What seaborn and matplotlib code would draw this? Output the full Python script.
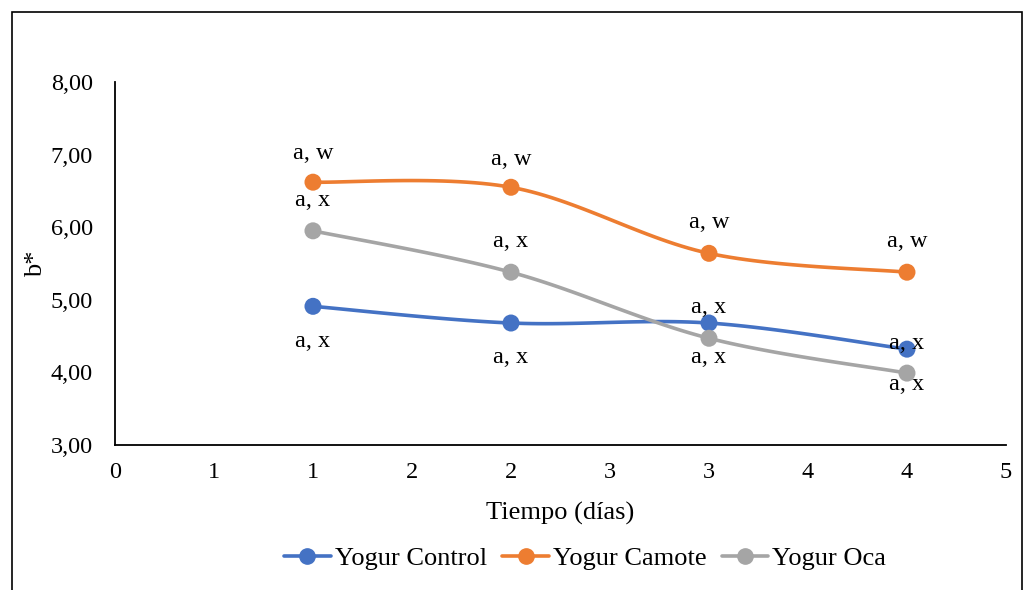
import numpy as np
import pandas as pd
import seaborn as sns
import matplotlib.pyplot as plt
from matplotlib.patches import Rectangle
from matplotlib.ticker import FuncFormatter, MultipleLocator

# datos
dias = [1, 2, 3, 4]
control = [4.91, 4.68, 4.68, 4.32]
camote = [6.62, 6.55, 5.64, 5.38]
oca = [5.95, 5.38, 4.47, 3.99]
series = ['Yogur Control', 'Yogur Camote', 'Yogur Oca']
etiquetas = {
    'Yogur Control': ['a, x', 'a, x', 'a, x', 'a, x'],
    'Yogur Camote': ['a, w', 'a, w', 'a, w', 'a, w'],
    'Yogur Oca': ['a, x', 'a, x', 'a, x', 'a, x'],
}
# desplazamiento vertical de las etiquetas (puntos)
desplaz = {
    'Yogur Control': [-25, -25, 11, 4],
    'Yogur Camote': [21, 20, 22, 22],
    'Yogur Oca': [22, 22, -14, -8],
}
colores = ['#4472C4', '#ED7D31', '#A5A5A5']

df = pd.DataFrame({'dia': dias * 3,
                   'b': control + camote + oca,
                   'serie': np.repeat(series, len(dias))})


def suavizar(x, y, n=30):
    # curva suavizada tipo Excel (Bezier cubica, Catmull-Rom)
    p = np.column_stack([x, y]).astype(float)
    p = np.vstack([p[0], p, p[-1]])
    xs, ys = [], []
    t = np.linspace(0, 1, n)
    for i in range(1, len(p) - 2):
        p0, p1, p2, p3 = p[i - 1], p[i], p[i + 1], p[i + 2]
        c1 = p1 + (p2 - p0) / 6
        c2 = p2 - (p3 - p1) / 6
        b = ((1 - t) ** 3)[:, None] * p1 + (3 * (1 - t) ** 2 * t)[:, None] * c1 \
            + (3 * (1 - t) * t ** 2)[:, None] * c2 + (t ** 3)[:, None] * p2
        xs.extend(b[:, 0])
        ys.extend(b[:, 1])
    return xs, ys


sns.set_style('white')
plt.rcParams['font.family'] = ['Liberation Serif', 'DejaVu Serif']
plt.rcParams['text.color'] = 'black'
plt.rcParams['axes.labelcolor'] = 'black'

fig = plt.figure(figsize=(10.34, 5.90), dpi=100)
ax = fig.add_axes([0.1112, 0.2458, 0.8617, 0.6152])

for s, c in zip(series, colores):
    d = df[df['serie'] == s]
    xs, ys = suavizar(d['dia'].values, d['b'].values)
    sns.lineplot(x=xs, y=ys, color=c, lw=2.6, ax=ax, sort=False)
    sns.scatterplot(x=d['dia'], y=d['b'], color=c, s=150, edgecolor='none', ax=ax, zorder=3)
    for xi, yi, t, off in zip(d['dia'], d['b'], etiquetas[s], desplaz[s]):
        ax.annotate(t, (xi, yi), xytext=(0, off), textcoords='offset points',
                    ha='center', va='center', fontsize=17.5, color='black')

ax.set_xlim(0, 4.5)
ax.set_ylim(3, 8)
ax.xaxis.set_major_locator(MultipleLocator(0.5))
ax.yaxis.set_major_locator(MultipleLocator(1))
ax.xaxis.set_major_formatter(FuncFormatter(lambda v, p: str(int(np.floor(v + 0.5 + 1e-9)))))
ax.yaxis.set_major_formatter(FuncFormatter(lambda v, p: f'{v:.2f}'.replace('.', ',')))
ax.tick_params(axis='both', labelsize=17.5, length=0, colors='black')
ax.tick_params(axis='x', pad=12)
ax.tick_params(axis='y', pad=16)
for sp in ['top', 'right']:
    ax.spines[sp].set_visible(False)
for sp in ['left', 'bottom']:
    ax.spines[sp].set_color('black')
    ax.spines[sp].set_linewidth(1.3)
ax.grid(False)

ax.set_xlabel('Tiempo (días)', fontsize=19, labelpad=14)
ax.set_ylabel('b*', fontsize=19)
ax.yaxis.set_label_coords(-0.076, 0.5)

handles = [plt.Line2D([], [], color=c, lw=2.6, marker='o', markersize=11) for c in colores]
fig.legend(handles, series, loc='center', bbox_to_anchor=(0.566, 0.054), ncol=3,
           frameon=False, fontsize=19, handlelength=1.75, columnspacing=0.6, handletextpad=0.15,
           labelcolor='black')

fig.patches.append(Rectangle((12 / 1034, -0.05), 1010 / 1034, 1.05 - 12 / 590,
                             transform=fig.transFigure, fill=False, edgecolor='black', lw=1.2))

fig.savefig('out.png', dpi=100)
